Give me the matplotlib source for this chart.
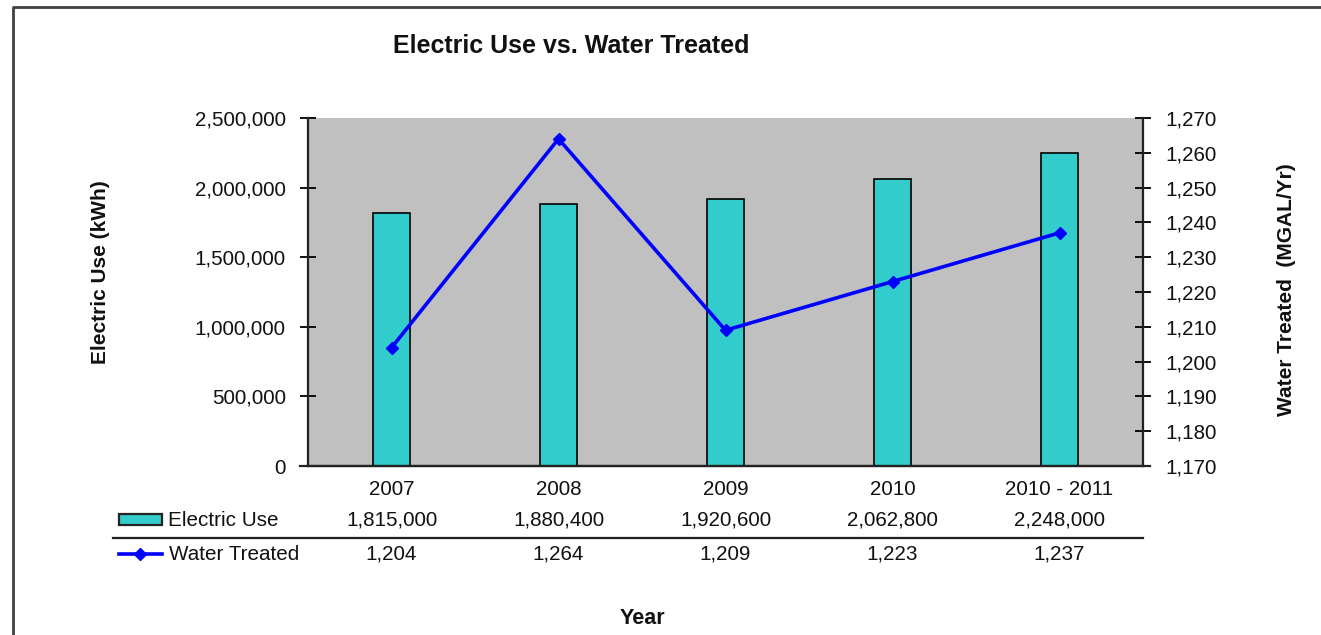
import matplotlib
matplotlib.use("Agg")
import matplotlib.pyplot as plt
import matplotlib.transforms as mtrans
from matplotlib.ticker import FuncFormatter, MultipleLocator
from matplotlib.lines import Line2D
from matplotlib.patches import Rectangle

plt.rcParams['font.family'] = ['Liberation Sans', 'DejaVu Sans']

# ---- data ----
years = ["2007", "2008", "2009", "2010", "2010 - 2011"]
electric_use = [1815000, 1880400, 1920600, 2062800, 2248000]
water_treated = [1204, 1264, 1209, 1223, 1237]

title = "Electric Use vs. Water Treated"
left_label = "Electric Use (kWh)"
right_label = "Water Treated  (MGAL/Yr)"
x_label = "Year"
series_names = ["Electric Use", "Water Treated"]

BAR_COLOR = "#33CCCC"
LINE_COLOR = "#0000FF"
PLOT_BG = "#C0C0C0"
TXT = "#111111"
FS = 14.9

W, H = 1321, 635
fig = plt.figure(figsize=(W / 100, H / 100), dpi=100)

def fx(px):
    return px / W

def fy(py):
    return 1 - py / H

ax = fig.add_axes([fx(308), fy(466), fx(1143) - fx(308), fy(118) - fy(466)])
ax.set_facecolor(PLOT_BG)
xs = list(range(len(years)))
ax.bar(xs, electric_use, width=0.22, color=BAR_COLOR, edgecolor="black", linewidth=1.2, zorder=2)
ax.set_xlim(-0.5, len(years) - 0.5)
ax.set_ylim(0, 2500000)
ax.yaxis.set_major_locator(MultipleLocator(500000))
fmt = FuncFormatter(lambda v, p: f"{v:,.0f}")
ax.yaxis.set_major_formatter(fmt)
ax.set_xticks(xs)
ax.set_xticklabels(years)
ax.tick_params(axis='x', length=0, pad=10, labelsize=FS, labelcolor=TXT)
ax.tick_params(axis='y', direction='inout', length=11, width=1.3, pad=10.5, labelsize=FS, labelcolor=TXT)
for s in ['top', 'right']:
    ax.spines[s].set_visible(False)
for s in ['left', 'bottom']:
    ax.spines[s].set_linewidth(1.6)
    ax.spines[s].set_color("#222222")

ax2 = ax.twinx()
ax2.plot(xs, water_treated, color=LINE_COLOR, linewidth=2.6, marker='D', markersize=6.5,
         markerfacecolor=LINE_COLOR, markeredgecolor=LINE_COLOR, zorder=5, clip_on=False)
ax2.set_ylim(1170, 1270)
ax2.yaxis.set_major_locator(MultipleLocator(10))
ax2.yaxis.set_major_formatter(fmt)
ax2.tick_params(axis='y', direction='inout', length=11, width=1.3, pad=10.5, labelsize=FS, labelcolor=TXT)
for s in ['top', 'left', 'bottom']:
    ax2.spines[s].set_visible(False)
ax2.spines['right'].set_linewidth(1.6)
ax2.spines['right'].set_color("#222222")

# extend x baseline a bit beyond the axes (as in Excel)
fig.add_artist(Line2D([fx(300), fx(1150)], [fy(466), fy(466)], color="#222222", linewidth=1.6))

# titles / labels
fig.text(fx(571), fy(46), title, ha='center', va='center', fontsize=18, fontweight='bold', color=TXT)
fig.text(fx(101), fy(272), left_label, ha='center', va='center', rotation=90, fontsize=15,
         fontweight='bold', color=TXT)
fig.text(fx(1287), fy(290), right_label, ha='center', va='center', rotation=90, fontsize=15,
         fontweight='bold', color=TXT)
fig.text(fx(642), fy(618), x_label, ha='center', va='center', fontsize=15.5, fontweight='bold', color=TXT)

# data table
blend = mtrans.blended_transform_factory(ax.transData, fig.transFigure)
for i in xs:
    fig.text(i, fy(520), f"{electric_use[i]:,}", transform=blend, ha='center', va='center',
             fontsize=FS, color=TXT)
    fig.text(i, fy(554), f"{water_treated[i]:,}", transform=blend, ha='center', va='center',
             fontsize=FS, color=TXT)
fig.add_artist(Line2D([fx(113), fx(1143)], [fy(538), fy(538)], color="#222222", linewidth=1.6))

# legend keys
fig.add_artist(Rectangle((fx(119), fy(525)), fx(162) - fx(119), fy(514) - fy(525),
                         facecolor=BAR_COLOR, edgecolor="#222222", linewidth=1.6,
                         transform=fig.transFigure))
fig.text(fx(168), fy(520), series_names[0], ha='left', va='center', fontsize=FS, color=TXT)
fig.add_artist(Line2D([fx(119), fx(162)], [fy(554), fy(554)], color=LINE_COLOR, linewidth=2.6))
fig.add_artist(Line2D([fx(140)], [fy(554)], color=LINE_COLOR, marker='D', markersize=6.5,
                      markerfacecolor=LINE_COLOR, markeredgecolor=LINE_COLOR))
fig.text(fx(169), fy(554), series_names[1], ha='left', va='center', fontsize=FS, color=TXT)

# chart border (left and top visible)
fig.add_artist(Line2D([fx(13), fx(13), fx(1321)], [fy(635), fy(7), fy(7)], color="#404040", linewidth=2))

fig.savefig("out.png", dpi=100)
